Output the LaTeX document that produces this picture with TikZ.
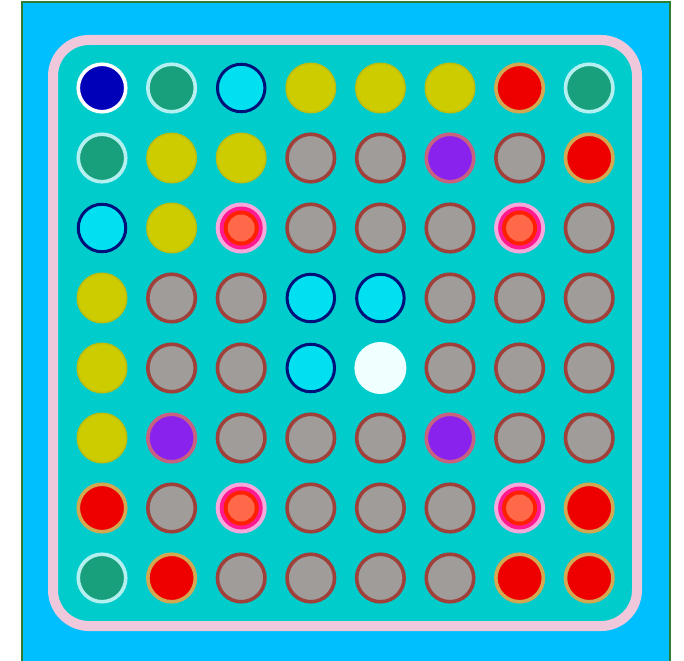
\documentclass[tikz,border=0pt]{standalone}
\usetikzlibrary{backgrounds}
\definecolor{skyb}{HTML}{00BFFF}
\definecolor{frameg}{HTML}{2E7D32}
\definecolor{tealbg}{HTML}{00CCCC}
\definecolor{pinkb}{HTML}{F0C8DC}
\definecolor{dkblue}{HTML}{0000B8}
\definecolor{sgreen}{HTML}{18A07C}
\definecolor{sgreenl}{HTML}{B4F0F0}
\definecolor{cyanf}{HTML}{00E0F0}
\definecolor{navyl}{HTML}{00107A}
\definecolor{yelf}{HTML}{CCCC00}
\definecolor{yell}{HTML}{BDBD10}
\definecolor{redf}{HTML}{EE0000}
\definecolor{tanl}{HTML}{D4A850}
\definecolor{grayf}{HTML}{A09C9A}
\definecolor{brownl}{HTML}{A0403A}
\definecolor{purf}{HTML}{8A22EE}
\definecolor{purl}{HTML}{C86080}
\definecolor{tgtpink}{HTML}{F4A8DC}
\definecolor{tgtmag}{HTML}{FF1A90}
\definecolor{tgtred}{HTML}{FF2000}
\definecolor{tgtor}{HTML}{FF6848}
\definecolor{whf}{HTML}{F0FFFF}
\tikzset{
  cell/.style={circle,inner sep=0pt,minimum size=47.5pt,line width=3.6pt},
  dkb/.style={cell,fill=dkblue,draw=white},
  grn/.style={cell,fill=sgreen,draw=sgreenl},
  cyn/.style={cell,fill=cyanf,draw=navyl,line width=3pt},
  yel/.style={cell,fill=yelf,draw=yell,line width=1.5pt,minimum size=49.5pt},
  red/.style={cell,fill=redf,draw=tanl},
  gry/.style={cell,fill=grayf,draw=brownl},
  pur/.style={cell,fill=purf,draw=purl},
  tgt/.style={cell,fill=tgtpink,draw=none,minimum size=51pt},
  wht/.style={cell,fill=whf,draw=none,minimum size=52pt},
}
\begin{document}
\begin{tikzpicture}[x=1pt,y=-1pt]
\useasboundingbox (0,0) rectangle (684,660);
\fill[white] (0,0) rectangle (684,660);
\draw[fill=skyb,draw=frameg,line width=1.5pt] (22,2) rectangle (670,664);
\draw[fill=tealbg,draw=pinkb,line width=10pt,rounded corners=36pt] (53,40) rectangle (637,626);
\foreach \r/\row in {1/{dkb,grn,cyn,yel,yel,yel,red,grn},
                     2/{grn,yel,yel,gry,gry,pur,gry,red},
                     3/{cyn,yel,tgt,gry,gry,gry,tgt,gry},
                     4/{yel,gry,gry,cyn,cyn,gry,gry,gry},
                     5/{yel,gry,gry,cyn,wht,gry,gry,gry},
                     6/{yel,pur,gry,gry,gry,pur,gry,gry},
                     7/{red,gry,tgt,gry,gry,gry,tgt,red},
                     8/{grn,red,gry,gry,gry,gry,red,red}}{
  \foreach \s [count=\c] in \row {
    \node[\s] (c\r-\c) at ({102+(\c-1)*69.6},{88+(\r-1)*70}) {};
  }
}
\foreach \n in {c3-3,c3-7,c7-3,c7-7}{
  \fill[tgtmag] (\n.center) circle (21.5);
  \fill[tgtred] (\n.center) circle (17.5);
  \fill[tgtor] (\n.center) circle (13.5);
}
\end{tikzpicture}
\end{document}
